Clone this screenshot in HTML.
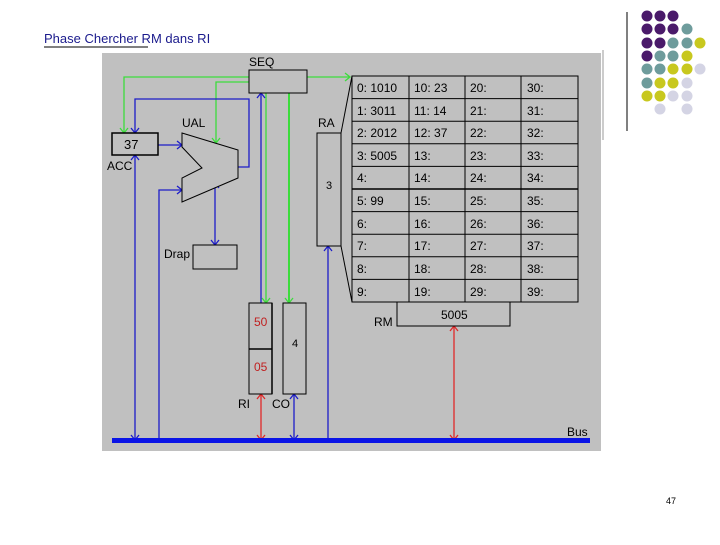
<!DOCTYPE html>
<html><head><style>
body{margin:0;width:720px;height:540px;background:#fff;overflow:hidden;font-family:"Liberation Sans",sans-serif}
</style></head><body>
<svg width="720" height="540" xmlns="http://www.w3.org/2000/svg" font-family="Liberation Sans, sans-serif">
<defs>
<marker id="ab" viewBox="0 0 10 10" refX="5" refY="1" markerWidth="8" markerHeight="8" orient="auto-start-reverse" markerUnits="userSpaceOnUse"><path d="M0,6 L5,1 L10,6" fill="none" stroke="#1c1cc8" stroke-width="1.3"/></marker>
</defs>
<text x="44" y="43" font-size="13" fill="#1a1a8c">Phase Chercher RM dans RI</text>
<line x1="44" y1="47" x2="148" y2="47" stroke="#000" stroke-width="1"/>
<rect x="102" y="53" width="499" height="398" fill="#c0c0c0"/>
<line x1="603" y1="50" x2="603" y2="140" stroke="#999" stroke-width="1"/>
<line x1="627" y1="12" x2="627" y2="131" stroke="#000" stroke-width="1"/>
<g>
<circle cx="647" cy="16" r="5.5" fill="#4a1a6a"/><circle cx="660" cy="16" r="5.5" fill="#4a1a6a"/><circle cx="673" cy="16" r="5.5" fill="#4a1a6a"/>
<circle cx="647" cy="29" r="5.5" fill="#4a1a6a"/><circle cx="660" cy="29" r="5.5" fill="#4a1a6a"/><circle cx="673" cy="29" r="5.5" fill="#4a1a6a"/><circle cx="687" cy="29" r="5.5" fill="#6e9c9c"/>
<circle cx="647" cy="43" r="5.5" fill="#4a1a6a"/><circle cx="660" cy="43" r="5.5" fill="#4a1a6a"/><circle cx="673" cy="43" r="5.5" fill="#6e9c9c"/><circle cx="687" cy="43" r="5.5" fill="#6e9c9c"/><circle cx="700" cy="43" r="5.5" fill="#c8c81e"/>
<circle cx="647" cy="56" r="5.5" fill="#4a1a6a"/><circle cx="660" cy="56" r="5.5" fill="#6e9c9c"/><circle cx="673" cy="56" r="5.5" fill="#6e9c9c"/><circle cx="687" cy="56" r="5.5" fill="#c8c81e"/>
<circle cx="647" cy="69" r="5.5" fill="#6e9c9c"/><circle cx="660" cy="69" r="5.5" fill="#6e9c9c"/><circle cx="673" cy="69" r="5.5" fill="#c8c81e"/><circle cx="687" cy="69" r="5.5" fill="#c8c81e"/><circle cx="700" cy="69" r="5.5" fill="#d4d4e4"/>
<circle cx="647" cy="83" r="5.5" fill="#6e9c9c"/><circle cx="660" cy="83" r="5.5" fill="#c8c81e"/><circle cx="673" cy="83" r="5.5" fill="#c8c81e"/><circle cx="687" cy="83" r="5.5" fill="#d4d4e4"/>
<circle cx="647" cy="96" r="5.5" fill="#c8c81e"/><circle cx="660" cy="96" r="5.5" fill="#c8c81e"/><circle cx="673" cy="96" r="5.5" fill="#d4d4e4"/><circle cx="687" cy="96" r="5.5" fill="#d4d4e4"/>
<circle cx="660" cy="109" r="5.5" fill="#d4d4e4"/><circle cx="687" cy="109" r="5.5" fill="#d4d4e4"/>
</g>
<!-- green lines -->
<g stroke="#3cdc3c" stroke-width="1.3" fill="none">
<polyline points="249,77 124,77 124,133"/>
<polyline points="249,82 216,82 216,143"/>
<line x1="307" y1="77" x2="350" y2="77"/>
<line x1="266" y1="93" x2="266" y2="303"/>
<line x1="289" y1="93" x2="289" y2="303" stroke-width="2"/>
<path d="M120,128 L124,133 L128,128 M212,138 L216,143 L220,138 M345,73 L350,77 L345,81 M262,298 L266,303 L270,298 M285,298 L289,303 L293,298"/>
</g>
<!-- blue lines -->
<g stroke="#1c1cc8" stroke-width="1.3" fill="none">
<polyline points="238,167 249,167 249,99 135,99 135,133"/>
<line x1="135" y1="155" x2="135" y2="440"/>
<line x1="158" y1="145" x2="182" y2="145"/>
<polyline points="182,190 159,190 159,440"/>
<line x1="215" y1="183" x2="215" y2="245"/>
<line x1="261" y1="93" x2="261" y2="303"/>
<line x1="328" y1="246" x2="328" y2="440"/>
<line x1="294" y1="394" x2="294" y2="440"/>
<path d="M131,128 L135,133 L139,128 M131,160 L135,155 L139,160 M131,435 L135,440 L139,435 M177,141 L182,145 L177,149 M177,186 L182,190 L177,194 M211,188 L215,183 L219,188 M211,240 L215,245 L219,240 M257,98 L261,93 L265,98 M324,251 L328,246 L332,251 M290,399 L294,394 L298,399 M290,435 L294,440 L298,435"/>
</g>
<g stroke="#e02828" stroke-width="1.3" fill="none">
<line x1="261" y1="394" x2="261" y2="440"/>
<line x1="454" y1="326" x2="454" y2="440"/>
<path d="M257,399 L261,394 L265,399 M257,435 L261,440 L265,435 M450,331 L454,326 L458,331 M450,435 L454,440 L458,435"/>
</g>
<rect x="112" y="438" width="478" height="5" fill="#0a14e6"/>
<!-- boxes -->
<g stroke="#000" stroke-width="1" fill="#c0c0c0">
<rect x="249" y="70" width="58" height="23"/>
<rect x="112" y="133" width="46" height="22" stroke-width="1.5"/>
<polygon points="182,133 238,150 238,178 182,202 182,178 202,168 182,147"/>
<rect x="193" y="245" width="44" height="24"/>
<rect x="317" y="133" width="24" height="113"/>
<rect x="249" y="303" width="23" height="91"/>
<line x1="249" y1="349" x2="272" y2="349" stroke-width="1.5"/>
<line x1="272" y1="303" x2="272" y2="394" stroke-width="1.5"/>
<rect x="283" y="303" width="23" height="91"/>
<rect x="397" y="302" width="113" height="24"/>
<line x1="341" y1="133" x2="352" y2="76"/>
<line x1="341" y1="246" x2="352" y2="302"/>
</g>
<g stroke="#000" stroke-width="1" fill="none">
<rect x="352" y="76" width="226" height="226" fill="#c0c0c0"/>
<line x1="409" y1="76" x2="409" y2="302"/><line x1="465" y1="76" x2="465" y2="302"/><line x1="521" y1="76" x2="521" y2="302"/>
<line x1="352" y1="98.6" x2="578" y2="98.6"/><line x1="352" y1="121.2" x2="578" y2="121.2"/><line x1="352" y1="143.8" x2="578" y2="143.8"/><line x1="352" y1="166.4" x2="578" y2="166.4"/><line x1="352" y1="189" x2="578" y2="189" stroke-width="1.5"/><line x1="352" y1="211.6" x2="578" y2="211.6"/><line x1="352" y1="234.2" x2="578" y2="234.2"/><line x1="352" y1="256.8" x2="578" y2="256.8"/><line x1="352" y1="279.4" x2="578" y2="279.4"/>
</g>
<g font-size="12" fill="#000">
<text x="249" y="66">SEQ</text>
<text x="182" y="127">UAL</text>
<text x="318" y="127">RA</text>
<text x="107" y="170">ACC</text>
<text x="164" y="258">Drap</text>
<text x="124" y="149" font-size="13">37</text>
<text x="326" y="189" font-size="11">3</text>
<text x="292" y="347" font-size="11">4</text>
<text x="238" y="408">RI</text>
<text x="272" y="408">CO</text>
<text x="374" y="326">RM</text>
<text x="441" y="319">5005</text>
<text x="567" y="436">Bus</text>
</g>
<g font-size="12" fill="#c02020"><text x="254" y="326">50</text><text x="254" y="371">05</text></g>
<g font-size="12" fill="#000">
<text x="357" y="92">0: 1010</text><text x="414" y="92">10: 23</text><text x="470" y="92">20:</text><text x="527" y="92">30:</text>
<text x="357" y="115">1: 3011</text><text x="414" y="115">11: 14</text><text x="470" y="115">21:</text><text x="527" y="115">31:</text>
<text x="357" y="137">2: 2012</text><text x="414" y="137">12: 37</text><text x="470" y="137">22:</text><text x="527" y="137">32:</text>
<text x="357" y="160">3: 5005</text><text x="414" y="160">13:</text><text x="470" y="160">23:</text><text x="527" y="160">33:</text>
<text x="357" y="182">4:</text><text x="414" y="182">14:</text><text x="470" y="182">24:</text><text x="527" y="182">34:</text>
<text x="357" y="205">5: 99</text><text x="414" y="205">15:</text><text x="470" y="205">25:</text><text x="527" y="205">35:</text>
<text x="357" y="228">6:</text><text x="414" y="228">16:</text><text x="470" y="228">26:</text><text x="527" y="228">36:</text>
<text x="357" y="250">7:</text><text x="414" y="250">17:</text><text x="470" y="250">27:</text><text x="527" y="250">37:</text>
<text x="357" y="273">8:</text><text x="414" y="273">18:</text><text x="470" y="273">28:</text><text x="527" y="273">38:</text>
<text x="357" y="296">9:</text><text x="414" y="296">19:</text><text x="470" y="296">29:</text><text x="527" y="296">39:</text>
</g>
<text x="666" y="504" font-size="9" fill="#000">47</text>
</svg>
</body></html>
